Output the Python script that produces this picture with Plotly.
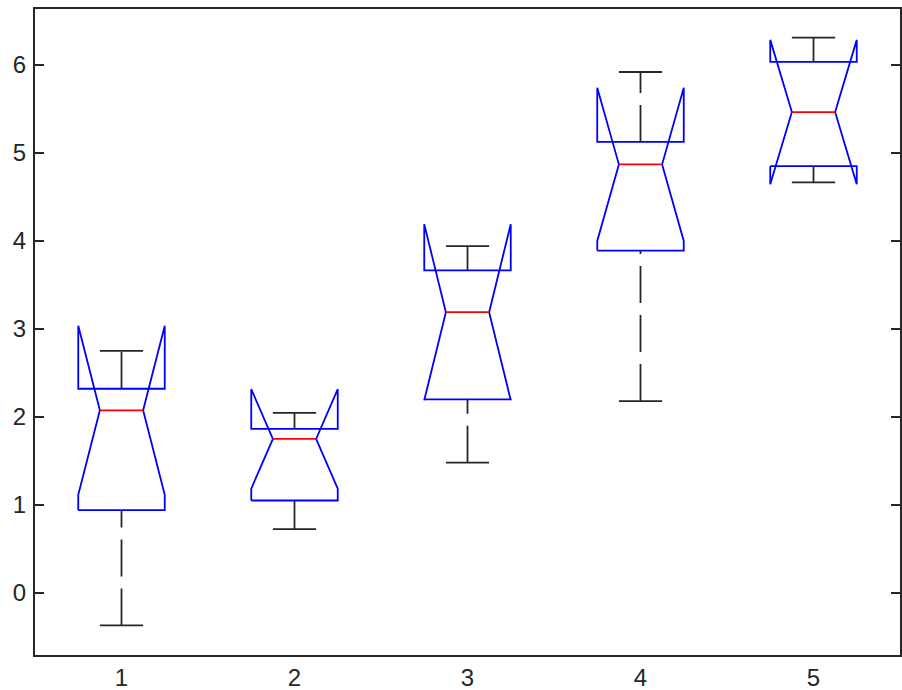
import plotly.graph_objects as go

# notched boxplot, values
groups = [1, 2, 3, 4, 5]
q1 = [0.94, 1.05, 2.20, 3.89, 4.85]
median = [2.075, 1.75, 3.19, 4.87, 5.465]
q3 = [2.32, 1.865, 3.665, 5.125, 6.035]
notch = [0.96, 0.565, 1.0, 0.87, 0.82]
lower_whisker = [-0.37, 0.725, 1.48, 2.18, 4.665]
upper_whisker = [2.75, 2.045, 3.94, 5.92, 6.31]

y_ticks = [0, 1, 2, 3, 4, 5, 6]
x_labels = ["1", "2", "3", "4", "5"]

HALF = 0.25       # box half width (x units)
NOTCH_HALF = 0.125
CAP_HALF = 0.125
LW = 1.8

fig = go.Figure()

# blue notched box outlines (matlab style, notch can overshoot the quartiles)
bx, by = [], []
for g, a, m, b, n in zip(groups, q1, median, q3, notch):
    bx += [g - HALF, g - HALF, g - NOTCH_HALF, g - HALF, g - HALF,
           g + HALF, g + HALF, g + NOTCH_HALF, g + HALF, g + HALF, g - HALF, None]
    by += [a, m - n, m, m + n, b, b, m + n, m, m - n, a, a, None]
fig.add_trace(go.Scatter(
    x=bx, y=by, mode="lines",
    line=dict(color="#0000ff", width=LW),
    showlegend=False, hoverinfo="skip",
))

# dashed whiskers, drawn bottom-to-top like matlab
wx, wy = [], []
for g, lo, a, b, hi in zip(groups, lower_whisker, q1, q3, upper_whisker):
    wx += [g, g, None, g, g, None]
    wy += [lo, a, None, b, hi, None]
fig.add_trace(go.Scatter(
    x=wx, y=wy, mode="lines",
    line=dict(color="#262626", width=LW, dash="37px,12px"),
    showlegend=False, hoverinfo="skip",
))

# whisker caps
cx, cy = [], []
for g, lo, hi in zip(groups, lower_whisker, upper_whisker):
    cx += [g - CAP_HALF, g + CAP_HALF, None, g - CAP_HALF, g + CAP_HALF, None]
    cy += [lo, lo, None, hi, hi, None]
fig.add_trace(go.Scatter(
    x=cx, y=cy, mode="lines",
    line=dict(color="#262626", width=LW),
    showlegend=False, hoverinfo="skip",
))

# red medians
mx, my = [], []
for g, m in zip(groups, median):
    mx += [g - NOTCH_HALF, g + NOTCH_HALF, None]
    my += [m, m, None]
fig.add_trace(go.Scatter(
    x=mx, y=my, mode="lines",
    line=dict(color="#ff0000", width=LW),
    showlegend=False, hoverinfo="skip",
))

fig.update_layout(
    width=902, height=690,
    margin=dict(l=35, r=1.5, t=9, b=34.5),
    paper_bgcolor="white",
    plot_bgcolor="white",
    font=dict(family="Liberation Sans, Arial, sans-serif", size=24, color="#262626"),
    showlegend=False,
)

fig.update_xaxes(
    range=[0.5, 5.5],
    tickmode="array", tickvals=groups, ticktext=x_labels,
    ticks="", showgrid=False, zeroline=False,
    showline=True, linecolor="#262626", linewidth=2, mirror=True,
    ticklabelstandoff=0, automargin=False,
)
fig.update_yaxes(
    range=[-0.706, 6.636],
    tickmode="array", tickvals=y_ticks,
    ticks="inside", ticklen=9, tickwidth=2, tickcolor="#262626",
    showgrid=False, zeroline=False,
    showline=True, linecolor="#262626", linewidth=2, mirror="ticks",
    ticklabelstandoff=2, automargin=False,
)

# the page body has a default 8px margin; drop it so the figure sits at 0,0
fig.write_html(
    "out.html",
    config={"displayModeBar": False},
    post_script="document.body.style.margin='0';",
)
